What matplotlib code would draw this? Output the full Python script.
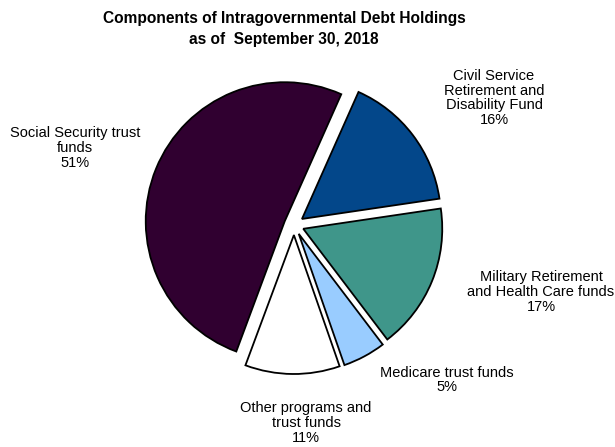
import matplotlib
matplotlib.use("Agg")
import matplotlib.pyplot as plt

plt.rcParams.update({"font.family": ["Liberation Sans", "DejaVu Sans"]})

labels = ["Civil Service\nRetirement and\nDisability Fund",
          "Military Retirement\nand Health Care funds",
          "Medicare trust funds",
          "Other programs and\ntrust funds",
          "Social Security trust\nfunds"]
shares = [16, 17, 5, 11, 51]
colors = ["#03478A", "#3F968A", "#99CCFF", "#FFFFFF", "#300030"]
# label anchor points in pixel coordinates (x, y from top)
label_pos = [(494, 98), (541, 292), (447, 380), (306, 423), (75, 148)]

W, H = 615, 447
R = 139
fig = plt.figure(figsize=(W / 100, H / 100), dpi=100)
ax = fig.add_axes([0, 0, 1, 1])

ax.pie(shares, colors=colors, startangle=66, counterclock=False,
       explode=[10] * len(shares), center=(294, H - 225), radius=R,
       wedgeprops=dict(edgecolor="black", linewidth=1.3))
ax.set_xlim(0, W)
ax.set_ylim(0, H)
ax.set_aspect("equal")
ax.axis("off")

for lab, pct, (x, y) in zip(labels, shares, label_pos):
    ax.text(x, H - y, f"{lab}\n{pct}%", ha="center", va="center",
            fontsize=10.5, linespacing=1.05, color="black")

ax.text(284, H - 29, "Components of Intragovernmental Debt Holdings\nas of  September 30, 2018",
        ha="center", va="center", fontsize=11.2, fontweight="bold", linespacing=1.55)

fig.savefig("out.png", dpi=100)
